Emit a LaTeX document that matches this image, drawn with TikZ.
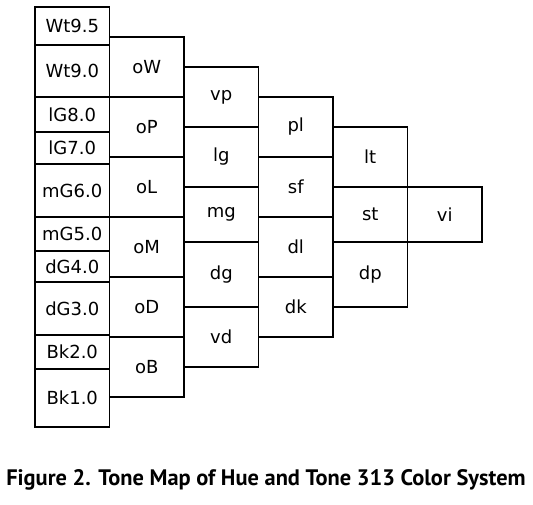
\documentclass[tikz,border=0pt]{standalone}
\usepackage{fontspec}
\setmainfont{DejaVu Sans}
\newfontfamily\captionfont{PT Sans}
\usetikzlibrary{positioning}

\tikzset{
  cell/.style={draw, line width=1.2pt, minimum width=74.5pt, inner sep=0pt, outer sep=0pt,
    font=\fontsize{18}{21}\selectfont},
  top/.style={anchor=north west},
}

\begin{document}
\begin{tikzpicture}[x=1pt, y=-1pt, node distance=0pt]
    \useasboundingbox (0,0) rectangle (533,505);
    % Column 1: grey scale
    \node[cell, top, minimum height=38] (wt95) at (35,7) {Wt9.5};
    \node[cell, minimum height=52, below=of wt95] (wt90) {Wt9.0};
    \node[cell, minimum height=35, below=of wt90] (lg80) {lG8.0};
    \node[cell, minimum height=32, below=of lg80] (lg70) {lG7.0};
    \node[cell, minimum height=53, below=of lg70] (mg60) {mG6.0};
    \node[cell, minimum height=34, below=of mg60] (mg50) {mG5.0};
    \node[cell, minimum height=31, below=of mg50] (dg40) {dG4.0};
    \node[cell, minimum height=53, below=of dg40] (dg30) {dG3.0};
    \node[cell, minimum height=34, below=of dg30] (bk20) {Bk2.0};
    \node[cell, minimum height=58, below=of bk20] (bk10) {Bk1.0};
    % Column 2: off tones
    \node[cell, top, minimum height=60] (ow) at (109.5,37) {oW};
    \node[cell, minimum height=60, below=of ow] (op) {oP};
    \node[cell, minimum height=60, below=of op] (ol) {oL};
    \node[cell, minimum height=60, below=of ol] (om) {oM};
    \node[cell, minimum height=60, below=of om] (od) {oD};
    \node[cell, minimum height=60, below=of od] (ob) {oB};
    % Column 3
    \node[cell, top, minimum height=60] (vp) at (184,67) {vp};
    \node[cell, minimum height=60, below=of vp] (lgr) {lg};
    \node[cell, minimum height=55, below=of lgr] (mgr) {mg};
    \node[cell, minimum height=65, below=of mgr] (dgr) {dg};
    \node[cell, minimum height=60, below=of dgr] (vd) {vd};
    % Column 4
    \node[cell, top, minimum height=60] (pl) at (258.5,97) {pl};
    \node[cell, minimum height=60, below=of pl] (sf) {sf};
    \node[cell, minimum height=60, below=of sf] (dl) {dl};
    \node[cell, minimum height=60, below=of dl] (dk) {dk};
    % Column 5
    \node[cell, top, minimum height=60] (lt) at (333,127) {lt};
    \node[cell, minimum height=55, below=of lt] (st) {st};
    \node[cell, minimum height=65, below=of st] (dp) {dp};
    % Column 6
    \node[cell, top, minimum height=55] (vi) at (407.5,187) {vi};
    % Caption
    \node[font=\captionfont\bfseries\fontsize{22.4}{25}\selectfont] (caption) at (266,480)
        {Figure 2. Tone Map of Hue and Tone 313 Color System};
\end{tikzpicture}
\end{document}
